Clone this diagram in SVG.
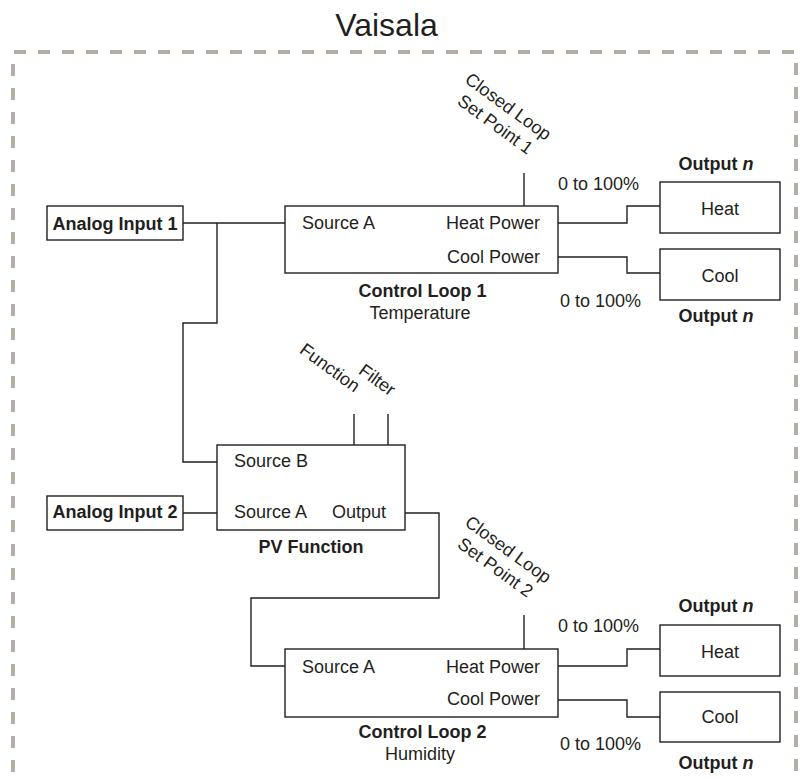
<svg xmlns="http://www.w3.org/2000/svg" width="805" height="779" viewBox="0 0 805 779">
<style>
text{font-family:"Liberation Sans",Arial,sans-serif;font-size:18px;fill:#231f20}
.b{font-weight:bold}
.m{text-anchor:middle}
.e{text-anchor:end}
.box{fill:#fff;stroke:#231f20;stroke-width:1.4}
.ln{fill:none;stroke:#231f20;stroke-width:1.4}
.dash{fill:none;stroke:#b5aea4;stroke-width:4;stroke-dasharray:12 12}
</style>
<rect width="805" height="779" fill="#fff"/>
<g id="title"><text class="m" x="386.5" y="36" style="font-size:32px">Vaisala</text></g>
<g id="frame">
<line class="dash" x1="14" y1="52" x2="797" y2="52"/>
<line class="dash" x1="13" y1="64" x2="13" y2="779"/>
<line class="dash" x1="796" y1="63" x2="796" y2="779"/>
</g>
<g id="connectors">
<polyline class="ln" points="183,223 285,223"/>
<polyline class="ln" points="217,223 217,323 183,323 183,462 217,462"/>
<line class="ln" x1="524" y1="173" x2="524" y2="206"/>
<polyline class="ln" points="558,223 627,223 627,206 660,206"/>
<polyline class="ln" points="558,257 627,257 627,273 660,273"/>
<line class="ln" x1="183" y1="513" x2="217" y2="513"/>
<line class="ln" x1="354" y1="414" x2="354" y2="445"/>
<line class="ln" x1="388" y1="414" x2="388" y2="445"/>
<polyline class="ln" points="405,513 439,513 439,598 251,598 251,666 285,666"/>
<line class="ln" x1="524" y1="615" x2="524" y2="649"/>
<polyline class="ln" points="558,666 627,666 627,649 660,649"/>
<polyline class="ln" points="558,700 627,700 627,717 660,717"/>
</g>
<g id="ai1">
<rect class="box" x="47" y="206" width="136" height="34"/>
<text class="b m" x="115" y="230">Analog Input 1</text>
</g>
<g id="cl1">
<rect class="box" x="285" y="206" width="273" height="67"/>
<text x="302" y="229">Source A</text>
<text class="e" x="540" y="229">Heat Power</text>
<text class="e" x="540" y="263">Cool Power</text>
<text class="b m" x="422.5" y="297">Control Loop 1</text>
<text class="m" x="420" y="319">Temperature</text>
</g>
<g id="sp1" transform="translate(501.5,116) rotate(36)">
<text class="m" x="0" y="-5.5">Closed Loop</text>
<text class="m" x="0" y="16.5">Set Point 1</text>
</g>
<g id="heat1">
<rect class="box" x="660" y="182" width="120" height="51"/>
<text class="m" x="720" y="215">Heat</text>
<text class="b m" x="716" y="170">Output <tspan font-style="italic">n</tspan></text>
<text x="558" y="190">0 to 100%</text>
</g>
<g id="cool1">
<rect class="box" x="660" y="249" width="120" height="51"/>
<text class="m" x="720" y="282">Cool</text>
<text class="b m" x="716" y="322">Output <tspan font-style="italic">n</tspan></text>
<text x="560" y="307">0 to 100%</text>
</g>
<g id="pv">
<rect class="box" x="217" y="445" width="188" height="85"/>
<text x="234" y="467">Source B</text>
<text x="234" y="518">Source A</text>
<text x="332" y="518">Output</text>
<text class="b m" x="311" y="553">PV Function</text>
<text class="m" transform="translate(329,369) rotate(36)" x="0" y="4.5">Function</text>
<text class="m" transform="translate(377.5,379.5) rotate(36)" x="0" y="6.5">Filter</text>
</g>
<g id="ai2">
<rect class="box" x="47" y="496" width="136" height="34"/>
<text class="b m" x="115" y="518">Analog Input 2</text>
</g>
<g id="cl2">
<rect class="box" x="285" y="649" width="273" height="68"/>
<text x="302" y="673">Source A</text>
<text class="e" x="540" y="673">Heat Power</text>
<text class="e" x="540" y="705">Cool Power</text>
<text class="b m" x="422.5" y="738">Control Loop 2</text>
<text class="m" x="420" y="760">Humidity</text>
</g>
<g id="sp2" transform="translate(501.5,559) rotate(36)">
<text class="m" x="0" y="-5.5">Closed Loop</text>
<text class="m" x="0" y="16.5">Set Point 2</text>
</g>
<g id="heat2">
<rect class="box" x="660" y="625" width="120" height="51"/>
<text class="m" x="720" y="658">Heat</text>
<text class="b m" x="716" y="612">Output <tspan font-style="italic">n</tspan></text>
<text x="558" y="632">0 to 100%</text>
</g>
<g id="cool2">
<rect class="box" x="660" y="692" width="120" height="50"/>
<text class="m" x="720" y="723">Cool</text>
<text class="b m" x="716" y="769">Output <tspan font-style="italic">n</tspan></text>
<text x="560" y="750">0 to 100%</text>
</g>
</svg>
